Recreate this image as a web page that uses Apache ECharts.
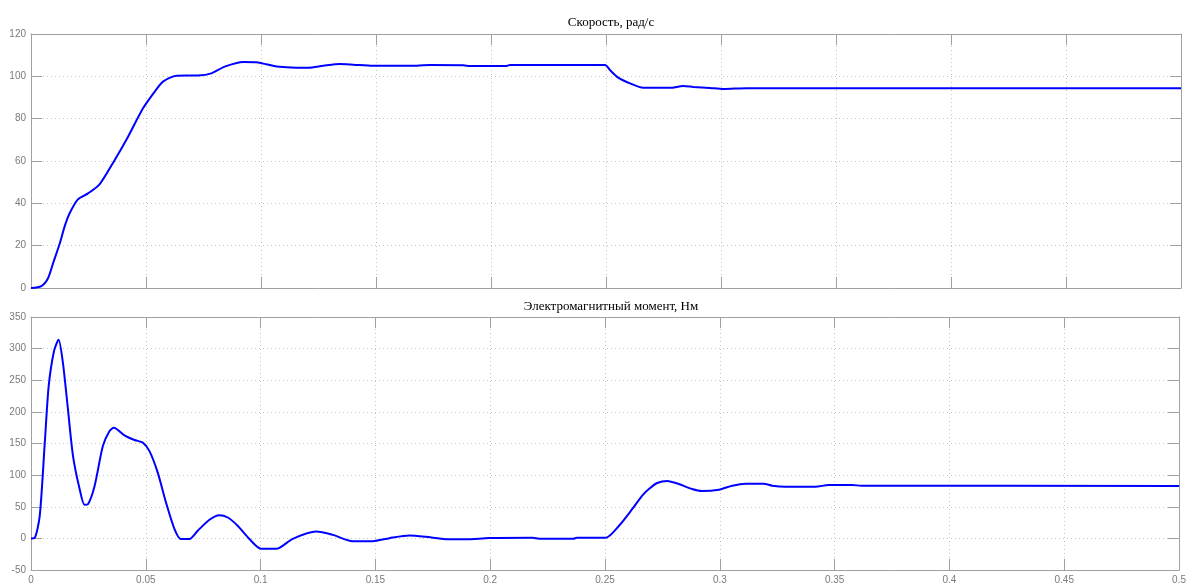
<!DOCTYPE html>
<html>
<head>
<meta charset="utf-8">
<script src="https://cdn.jsdelivr.net/npm/echarts@6/dist/echarts.min.js"></script>
<style>
  html, body { margin: 0; padding: 0; background: #fff; }
  #chart { width: 1189px; height: 585px; }
</style>
</head>
<body>
<div id="chart"></div>
<script>
// Rotor speed, rad/s
const speedTime = [0, 0.0045, 0.0074, 0.0096, 0.0125, 0.0146, 0.0168, 0.0204, 0.0248, 0.0299,
  0.0364, 0.0422, 0.0487, 0.0538, 0.0574, 0.0632, 0.0726, 0.0784, 0.0842, 0.0923, 0.0981,
  0.1023, 0.1068, 0.1155, 0.1206, 0.1271, 0.1343, 0.1401, 0.1488, 0.1677, 0.1735, 0.188,
  0.1909, 0.2068, 0.2083, 0.2496, 0.2517, 0.2553, 0.2604, 0.2662, 0.2778, 0.2836, 0.288,
  0.2952, 0.301, 0.3112, 0.5];
const speedValue = [0, 0.9, 4.6, 11.7, 21, 29, 35.3, 41.9, 44.7, 49.1,
  60.5, 71.5, 84.9, 92.8, 97.5, 100.3, 100.4, 101.4, 104.6, 106.8, 106.6,
  105.7, 104.6, 104.1, 104.1, 105, 105.8, 105.5, 105, 105, 105.4, 105.2,
  104.9, 104.9, 105.4, 105.4, 103, 99.4, 96.7, 94.6, 94.6, 95.4, 95,
  94.5, 94, 94.4, 94.4];

// Electromagnetic torque, N·m
const torqueTime = [0, 0.0016, 0.0038, 0.006, 0.0077, 0.01, 0.012, 0.0139, 0.0161, 0.0183,
  0.0212, 0.0233, 0.0248, 0.0277, 0.0313, 0.0342, 0.0361, 0.0407, 0.0451, 0.0487, 0.0516,
  0.0552, 0.0588, 0.0625, 0.0653, 0.069, 0.0726, 0.0777, 0.082, 0.0857, 0.09, 0.0951,
  0.1003, 0.1068, 0.114, 0.1242, 0.1314, 0.1401, 0.1488, 0.1561, 0.1648, 0.172, 0.1807,
  0.1894, 0.1996, 0.2184, 0.2213, 0.2362, 0.2377, 0.2503, 0.2561, 0.2619, 0.2662, 0.2691,
  0.2727, 0.2771, 0.2821, 0.2879, 0.2923, 0.2996, 0.3054, 0.3112, 0.3191, 0.3228, 0.3286,
  0.3416, 0.3474, 0.3575, 0.3617, 0.5];
const torqueValue = [0, 0.7, 35.6, 151, 240.6, 295.8, 314.2, 277.5, 203.8, 130.2,
  77.7, 53, 54, 83, 146, 169.6, 175, 162.9, 155.5, 151.3, 138,
  104, 56.7, 14.7, -1.1, -1, 12, 29.4, 36.7, 33, 19.9, -1,
  -16.6, -16.6, -0.8, 10.7, 5.5, -4.4, -4.4, 0.3, 4.4, 2.4, -1.3,
  -1.5, 0.5, 1, -0.5, -0.5, 1, 1, 20, 46.5, 67.5, 78,
  87.5, 90.7, 86, 78, 74.9, 77, 83.3, 86.5, 86.5, 83.3, 81.7,
  81.7, 84.3, 84.3, 83.3, 83];

const speedTicks = { min: 0, max: 120, interval: 20 };
const torqueTicks = { min: -50, max: 350, interval: 50 };
const timeTicks = { min: 0, max: 0.5, interval: 0.05 };

const titles = ['Скорость, рад/с', 'Электромагнитный момент, Нм'];

const frameColor = '#a0a0a0';
const gridColor = '#c4c4c4';
const labelFont = {
  color: '#7a7a7a',
  fontSize: 10,
  fontFamily: '"Liberation Sans", Arial, sans-serif'
};
const titleFont = {
  fontFamily: '"Liberation Serif", "Times New Roman", serif',
  fontSize: 13, fontWeight: 'normal', color: '#000'
};

function pairs(xs, ys) { return xs.map((x, i) => [x, ys[i]]); }

function axisParts(showLabel, showSplit, formatter) {
  const label = Object.assign({ show: showLabel, margin: 5 }, labelFont);
  if (formatter) label.formatter = formatter;
  return {
    axisLine: { show: true, onZero: false, lineStyle: { color: frameColor, width: 1 } },
    axisTick: { show: true, inside: true, length: 11, lineStyle: { color: frameColor } },
    axisLabel: label,
    splitLine: { show: showSplit, lineStyle: { color: gridColor, type: [1, 3], width: 1 } }
  };
}

function xAxis(gridIndex, position, showLabel, showSplit) {
  return Object.assign({
    type: 'value', gridIndex, position,
    min: timeTicks.min, max: timeTicks.max, interval: timeTicks.interval
  }, axisParts(showLabel, showSplit, v => String(+v.toFixed(2))));
}

function yAxis(gridIndex, position, ticks, showLabel, showSplit) {
  return Object.assign({
    type: 'value', gridIndex, position,
    min: ticks.min, max: ticks.max, interval: ticks.interval
  }, axisParts(showLabel, showSplit));
}

const chart = echarts.init(document.getElementById('chart'), null, { renderer: 'canvas' });

chart.setOption({
  backgroundColor: '#ffffff',
  animation: false,
  title: [
    { text: titles[0], left: 606, top: 11, textAlign: 'center', textStyle: titleFont },
    { text: titles[1], left: 606, top: 295, textAlign: 'center', textStyle: titleFont }
  ],
  grid: [
    { left: 31, top: 34, width: 1150, height: 254 },
    { left: 31, top: 317, width: 1150, height: 254 }
  ],
  xAxis: [
    xAxis(0, 'bottom', false, true),
    xAxis(0, 'top', false, false),
    xAxis(1, 'bottom', true, true),
    xAxis(1, 'top', false, false)
  ],
  yAxis: [
    yAxis(0, 'left', speedTicks, true, true),
    yAxis(0, 'right', speedTicks, false, false),
    yAxis(1, 'left', torqueTicks, true, true),
    yAxis(1, 'right', torqueTicks, false, false)
  ],
  series: [
    { type: 'line', xAxisIndex: 0, yAxisIndex: 0, data: pairs(speedTime, speedValue),
      showSymbol: false, smooth: 0.25, lineStyle: { color: '#0000ff', width: 2 } },
    { type: 'line', xAxisIndex: 2, yAxisIndex: 2, data: pairs(torqueTime, torqueValue),
      showSymbol: false, smooth: 0.25, lineStyle: { color: '#0000ff', width: 2 } }
  ]
});
</script>
</body>
</html>
